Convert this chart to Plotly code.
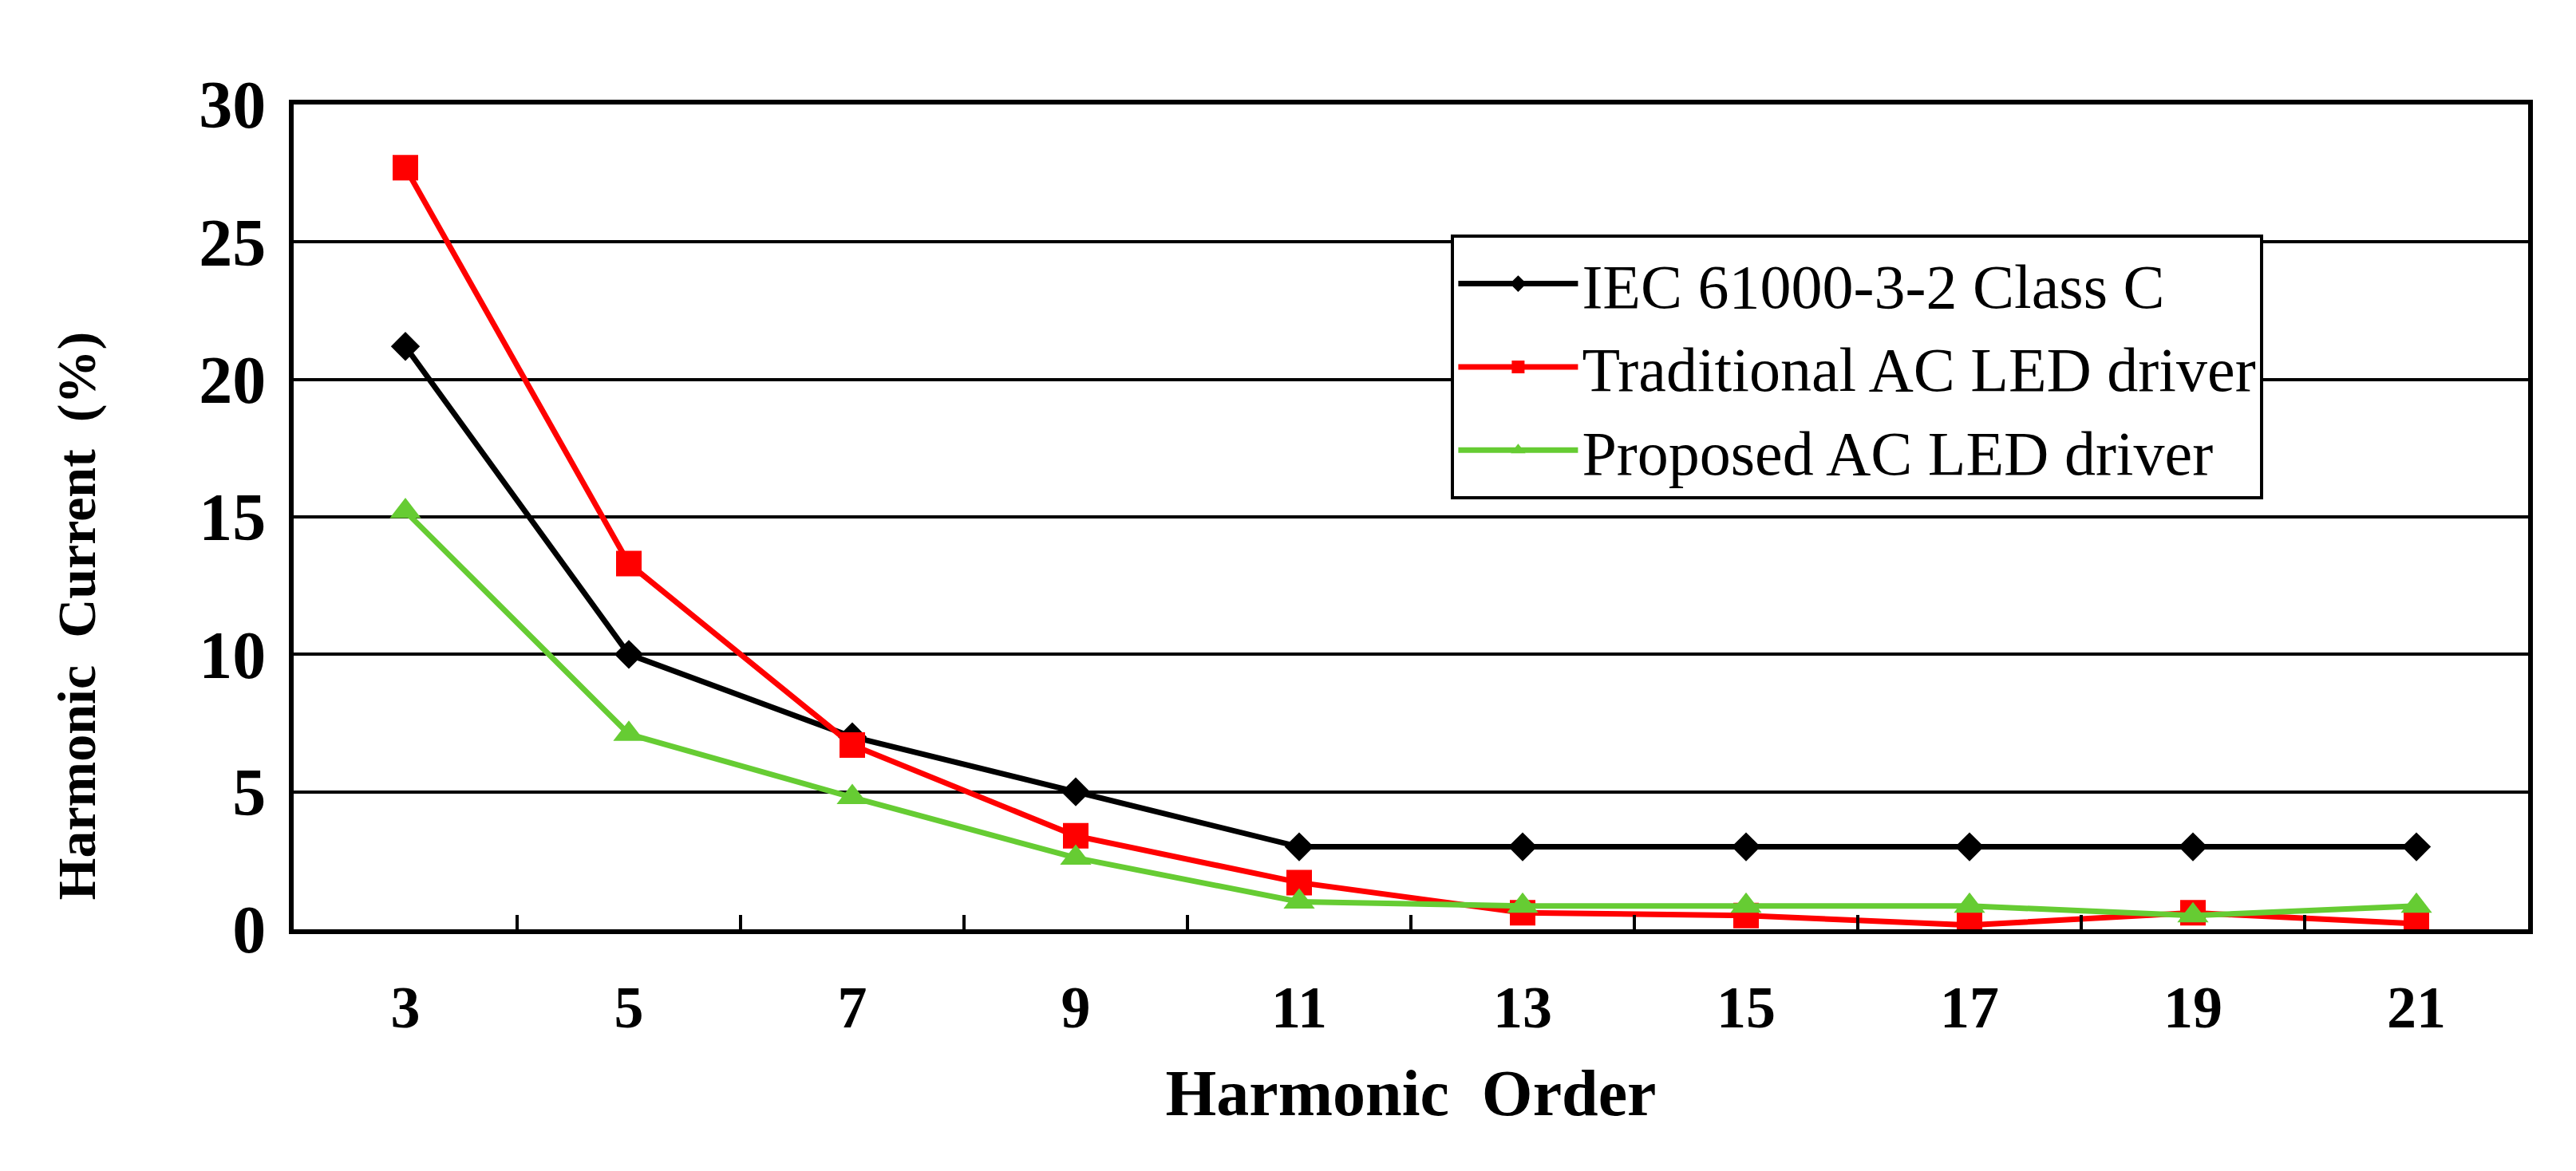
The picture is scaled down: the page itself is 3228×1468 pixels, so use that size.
import plotly.graph_objects as go

# harmonic orders (category axis)
orders = ["3", "5", "7", "9", "11", "13", "15", "17", "19", "21"]

# harmonic current in % of fundamental
iec_limit = [21.2, 10.0, 7.0, 5.0, 3.0, 3.0, 3.0, 3.0, 3.0, 3.0]
traditional = [27.7, 13.3, 6.7, 3.4, 1.7, 0.6, 0.5, 0.15, 0.6, 0.2]
proposed = [15.2, 7.1, 4.8, 2.6, 1.0, 0.85, 0.85, 0.85, 0.5, 0.85]

y_ticks = [0, 5, 10, 15, 20, 25, 30]

SERIF = "Liberation Serif, Times New Roman, serif"

fig = go.Figure()

fig.add_trace(go.Scatter(
    x=orders, y=iec_limit, name="IEC 61000-3-2 Class C",
    mode="lines+markers",
    line=dict(color="black", width=7),
    marker=dict(symbol="diamond", size=28, color="black"),
))
fig.add_trace(go.Scatter(
    x=orders, y=traditional, name="Traditional AC LED driver",
    mode="lines+markers",
    line=dict(color="#FF0000", width=7),
    marker=dict(symbol="square", size=32, color="#FF0000"),
))
fig.add_trace(go.Scatter(
    x=orders, y=proposed, name="Proposed AC LED driver",
    mode="lines+markers",
    line=dict(color="#66CC33", width=7),
    marker=dict(symbol="triangle-up", size=34, color="#66CC33"),
))

fig.update_layout(
    width=3228,
    height=1468,
    paper_bgcolor="white",
    plot_bgcolor="white",
    margin=dict(l=360, r=68, t=123, b=311),
    font=dict(family=SERIF, color="black"),
    showlegend=True,
    legend=dict(
        x=0.518, y=0.842, xanchor="left", yanchor="top",
        bgcolor="white", bordercolor="black", borderwidth=4,
        font=dict(family=SERIF, size=78, color="black"),
        itemwidth=150, tracegroupgap=0,
    ),
    annotations=[dict(
        text="<b>Harmonic  Current  (%)</b>",
        xref="paper", yref="paper", x=-0.097, y=0.38,
        xanchor="center", yanchor="middle", textangle=-90,
        showarrow=False,
        font=dict(family=SERIF, size=68, color="black"),
    )],
)

fig.update_xaxes(
    type="category",
    categoryorder="array", categoryarray=orders,
    range=[-0.5, 9.5],
    showline=True, linecolor="black", linewidth=6, mirror=True,
    showgrid=False, zeroline=False,
    ticks="inside", tickson="boundaries", ticklen=18, tickwidth=4, tickcolor="black",
    tickfont=dict(family=SERIF, size=74, color="black", weight="bold"),
    ticklabelstandoff=28,
    title=dict(text="<b>Harmonic  Order</b>", font=dict(family=SERIF, size=82, color="black"),
               standoff=40),
)

fig.update_yaxes(
    range=[0, 30],
    tickvals=y_ticks,
    showline=True, linecolor="black", linewidth=6, mirror=True,
    showgrid=True, gridcolor="black", gridwidth=4,
    zeroline=False,
    ticks="inside", ticklen=18, tickwidth=4, tickcolor="black",
    tickfont=dict(family=SERIF, size=84, color="black", weight="bold"),
    ticklabelstandoff=12,
)

fig.write_html("out.html")
